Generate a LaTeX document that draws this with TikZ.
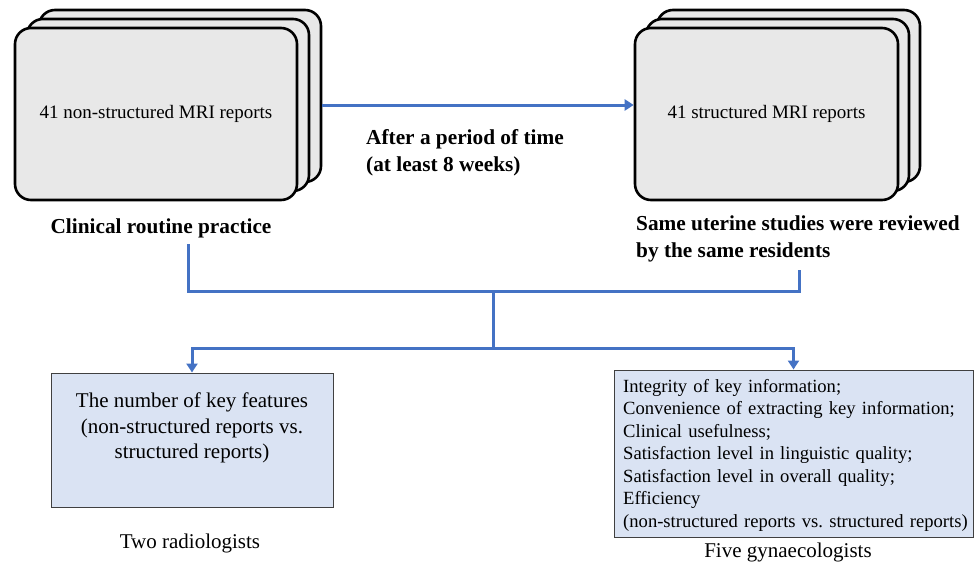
\documentclass[tikz,border=0pt]{standalone}
\usepackage{fontspec}
\setmainfont{Liberation Serif}
\usetikzlibrary{arrows.meta}
\frenchspacing
\definecolor{stackgray}{HTML}{E8E8E8}
\definecolor{boxblue}{HTML}{DAE3F3}
\definecolor{lineblue}{HTML}{4472C4}
\definecolor{boxedge}{HTML}{404040}
\tikzset{
  stackbox/.style={draw=black, line width=2.6pt, fill=stackgray, rounded corners=16pt, minimum width=282pt, minimum height=172pt, inner sep=0pt, font=\fontsize{19}{22}\selectfont},
  stackboxr/.style={stackbox, minimum width=263pt},
  conn/.style={draw=lineblue, line width=3pt},
  arr/.style={conn, -{Triangle[width=11pt,length=9pt]}},
  bluebox/.style={draw=boxedge, line width=1pt, fill=boxblue, inner sep=0pt},
  btext/.style={font=\bfseries\fontsize{21.3}{26.5}\selectfont, align=left, inner sep=0pt},
  rtext/.style={font=\fontsize{21}{25.3}\selectfont, inner sep=0pt},
}
\begin{document}
\begin{tikzpicture}[x=1pt,y=-1pt]
\useasboundingbox (0,0) rectangle (977,565);
% left stack
\node[stackbox] (lback) at (180,96) {};
\node[stackbox] (lmid) at (168,105) {};
\node[stackbox] (lfront) at (156,114) {41 non-structured MRI reports};
% right stack
\node[stackboxr] (rback) at (788.5,96) {};
\node[stackboxr] (rmid) at (777.5,105) {};
\node[stackboxr] (rfront) at (766.5,114) {41 structured MRI reports};
% arrow between stacks
\draw[arr] (lback.east |- lmid.east) -- (rfront.west |- lmid.east);
% labels
\node[btext, anchor=west] (after) at (366,153) {After a period of time\\(at least 8 weeks)};
\node[btext] (clin) at (161,228) {Clinical routine practice};
\node[btext, anchor=west] (same) at (636,239) {Same uterine studies were reviewed\\by the same residents};
% connectors
\coordinate (a1) at (188,244);
\coordinate (a2) at (799,270);
\coordinate (jt) at (493,291);
\coordinate (jb) at (493,348);
% bottom boxes
\node[bluebox, minimum width=282pt, minimum height=134pt] (lbox) at (192,440) {};
\node[rtext, align=center] (ltxt) at (192,428) {The number of key features\\(non-structured reports vs.\\structured reports)};
\node[bluebox, minimum width=359pt, minimum height=167pt] (rbox) at (793.5,453.5) {};
\node[anchor=west, inner sep=0pt, text width=380pt, align=left, font=\fontsize{18.6}{22.5}\selectfont] (rtxt) at (623,455) {Integrity of key information;\\Convenience of extracting key information;\\Clinical usefulness;\\Satisfaction level in linguistic quality;\\Satisfaction level in overall quality;\\Efficiency\\(non-structured reports vs. structured reports)};
\draw[conn] (a1) |- (jt) -| (a2);
\draw[conn] (jt) -- (jb);
\draw[arr] (jb) -| (lbox.north);
\draw[arr] (jb) -| (rbox.north);
\node[rtext] (two) at (190,543) {Two radiologists};
\node[rtext] (five) at (788,552) {Five gynaecologists};
\end{tikzpicture}
\end{document}
